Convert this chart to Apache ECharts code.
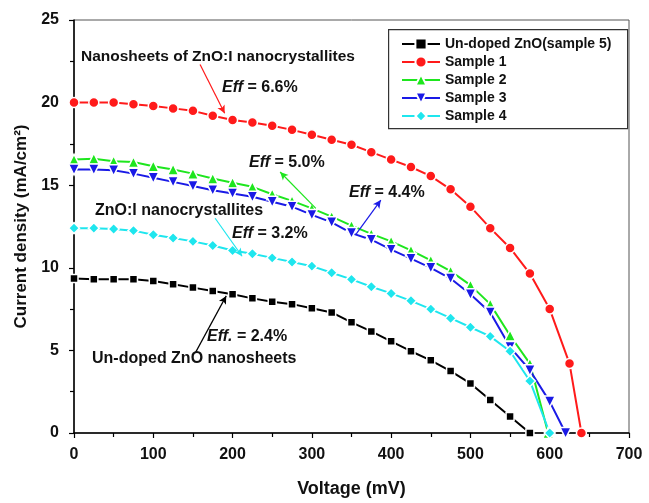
<!DOCTYPE html>
<html>
<head>
<meta charset="utf-8">
<script src="https://cdn.jsdelivr.net/npm/echarts@6/dist/echarts.min.js"></script>
<style>
  html, body { margin: 0; padding: 0; background: #fff; }
  #chart { width: 649px; height: 503px; }
</style>
</head>
<body>
<div id="chart"></div>
<script>
// J-V curves: current density (mA/cm^2) vs voltage (mV)
const voltageBase = [0, 25, 50, 75, 100, 125, 150, 175, 200, 225, 250, 275,
                     300, 325, 350, 375, 400, 425, 450, 475, 500, 525, 550, 575];

const undopedTail = [];
const undopedJ = [9.35, 9.3, 9.3, 9.3, 9.2, 9.0, 8.8, 8.6, 8.4, 8.15, 7.95, 7.8,
                  7.55, 7.3, 6.7, 6.15, 5.55, 4.95, 4.4, 3.75, 3.0, 2.0, 1.0, 0];

const sample1Tail = [600, 625, 640];
const sample1J = [20.0, 20.0, 20.0, 19.9, 19.8, 19.65, 19.5, 19.2, 18.95, 18.8, 18.6, 18.35,
                  18.05, 17.75, 17.45, 17.0, 16.55, 16.1, 15.55, 14.75, 13.7, 12.4, 11.2, 9.65,
                  7.5, 4.2, 0];

const sample2Tail = [598];
const sample2J = [16.55, 16.6, 16.45, 16.4, 16.15, 15.95, 15.7, 15.4, 15.15, 14.9, 14.45, 14.05,
                  13.6, 13.1, 12.55, 12.05, 11.6, 11.05, 10.45, 9.8, 8.95, 7.8, 5.9, 4.2,
                  0];

const sample3Tail = [600, 620];
const sample3J = [15.95, 15.95, 15.9, 15.7, 15.45, 15.2, 14.95, 14.7, 14.5, 14.3, 14.0, 13.7,
                  13.2, 12.75, 12.1, 11.7, 11.1, 10.55, 10.0, 9.35, 8.4, 7.3, 5.2, 3.8,
                  1.9, 0];

const sample4Tail = [600];
const sample4J = [12.4, 12.4, 12.35, 12.25, 12.0, 11.8, 11.6, 11.35, 11.05, 10.85, 10.6, 10.35,
                  10.1, 9.7, 9.3, 8.85, 8.45, 8.0, 7.5, 6.95, 6.4, 5.85, 4.95, 3.15,
                  0];

const seriesNames = ['Un-doped ZnO(sample 5)', 'Sample 1', 'Sample 2', 'Sample 3', 'Sample 4'];
const xTicks = [0, 100, 200, 300, 400, 500, 600, 700];
const yTicks = [0, 5, 10, 15, 20, 25];

// arrows between annotation text and curves, in data coordinates [mV, mA/cm^2]
const arrowRed   = [[159, 22.3], [190, 19.35]];
const arrowGreen = [[305, 13.6], [260, 15.8]];
const arrowBlue  = [[356, 12.05], [387, 14.1]];
const arrowCyan  = [[178, 13.0], [212, 10.7]];
const arrowBlack = [[153, 4.85], [192, 8.3]];

const FONT = '"Liberation Sans", Arial, sans-serif';

function pairs(volts, vals) {
  return vals.map((v, i) => [volts[i], v]);
}

const chart = echarts.init(document.getElementById('chart'), null, { renderer: 'canvas' });

function curve(name, color, symbol, size, volts, vals, rotate, arrow) {
  const s = {
    name: name,
    type: 'line',
    data: pairs(volts, vals),
    symbol: symbol,
    symbolSize: size,
    symbolRotate: rotate || 0,
    showAllSymbol: true,
    lineStyle: { color: color, width: 2 },
    itemStyle: { color: color, borderColor: '#fff', borderWidth: 1.5 },
    emphasis: { disabled: true },
    animation: false
  };
  if (arrow) {
    s.markLine = {
      silent: true,
      animation: false,
      symbol: ['none', 'arrow'],
      symbolSize: [6, 8],
      label: { show: false },
      lineStyle: { color: color, width: 1.2, type: 'solid' },
      data: [[{ coord: arrow[0] }, { coord: arrow[1] }]]
    };
  }
  return s;
}

const labelFont = { fontFamily: FONT, fontWeight: 'bold', fontSize: 16, color: '#111' };

function effText(tag, val, left, top) {
  return {
    type: 'text', left: left, top: top, z: 50,
    style: {
      rich: {
        i: { fontFamily: FONT, fontWeight: 'bold', fontStyle: 'italic', fontSize: 16, fill: '#111' },
        n: { fontFamily: FONT, fontWeight: 'bold', fontSize: 16, fill: '#111' }
      },
      text: '{i|' + tag + '}{n| = ' + val + '}'
    }
  };
}
function plainText(str, left, top, size) {
  return {
    type: 'text', left: left, top: top, z: 50,
    style: { text: str, font: 'bold ' + size + 'px ' + FONT, fill: '#111' }
  };
}

chart.setOption({
  animation: false,
  backgroundColor: '#fff',
  grid: {
    left: 74, right: 20, top: 20, bottom: 68,
    show: true, borderColor: '#555', borderWidth: 1, backgroundColor: 'transparent'
  },
  xAxis: {
    type: 'value', min: xTicks[0], max: xTicks[xTicks.length - 1], interval: 100,
    name: 'Voltage (mV)', nameLocation: 'middle', nameGap: 47,
    nameTextStyle: { fontFamily: FONT, fontWeight: 'bold', fontSize: 18, color: '#111' },
    axisLine: { show: true, onZero: false, lineStyle: { color: '#000', width: 1.5 } },
    axisTick: { show: true, inside: false, length: 5, lineStyle: { color: '#000', width: 1.2 } },
    minorTick: { show: true, splitNumber: 2, length: 4, lineStyle: { color: '#000', width: 1.2 } },
    splitLine: { show: false },
    axisLabel: Object.assign({ margin: 14 }, labelFont)
  },
  yAxis: {
    type: 'value', min: yTicks[0], max: yTicks[yTicks.length - 1], interval: 5,
    name: 'Current density (mA/cm²)', nameLocation: 'middle', nameGap: 42,
    nameTextStyle: { fontFamily: FONT, fontWeight: 'bold', fontSize: 17, color: '#111' },
    axisLine: { show: true, onZero: false, lineStyle: { color: '#000', width: 1.5 } },
    axisTick: { show: true, inside: false, length: 5, lineStyle: { color: '#000', width: 1.2 } },
    minorTick: { show: true, splitNumber: 2, length: 4, lineStyle: { color: '#000', width: 1.2 } },
    splitLine: { show: false },
    axisLabel: Object.assign({ margin: 15 }, labelFont)
  },
  legend: {
    orient: 'vertical', left: 396, top: 32,
    itemWidth: 38, itemHeight: 14, itemGap: 4,
    textStyle: { fontFamily: FONT, fontWeight: 'bold', fontSize: 14, color: '#111' },
    data: seriesNames
  },
  series: [
    curve(seriesNames[0], '#000000', 'rect', 8, voltageBase.concat(undopedTail), undopedJ, 0, arrowBlack),
    curve(seriesNames[1], '#ff1a1a', 'circle', 10, voltageBase.concat(sample1Tail), sample1J, 0, arrowRed),
    curve(seriesNames[2], '#1ee61e', 'triangle', 11, voltageBase.concat(sample2Tail), sample2J, 0, arrowGreen),
    curve(seriesNames[3], '#1a1ae6', 'triangle', 11, voltageBase.concat(sample3Tail), sample3J, 180, arrowBlue),
    curve(seriesNames[4], '#1ee6ee', 'diamond', 11, voltageBase.concat(sample4Tail), sample4J, 0, arrowCyan)
  ],
  graphic: [
    {
      type: 'rect', left: 388, top: 29, z: 40, silent: true,
      shape: { width: 239, height: 99 },
      style: { fill: 'transparent', stroke: '#333', lineWidth: 1.2 }
    },
    plainText('Nanosheets of ZnO:I nanocrystallites', 81, 49, 15.5),
    effText('Eff', '6.6%', 222, 80),
    effText('Eff', '5.0%', 249, 155),
    effText('Eff', '4.4%', 349, 185),
    plainText('ZnO:I nanocrystallites', 95, 203, 16),
    effText('Eff', '3.2%', 232, 226),
    effText('Eff.', '2.4%', 207, 329),
    plainText('Un-doped ZnO nanosheets', 92, 351, 16)
  ]
});
</script>
</body>
</html>
